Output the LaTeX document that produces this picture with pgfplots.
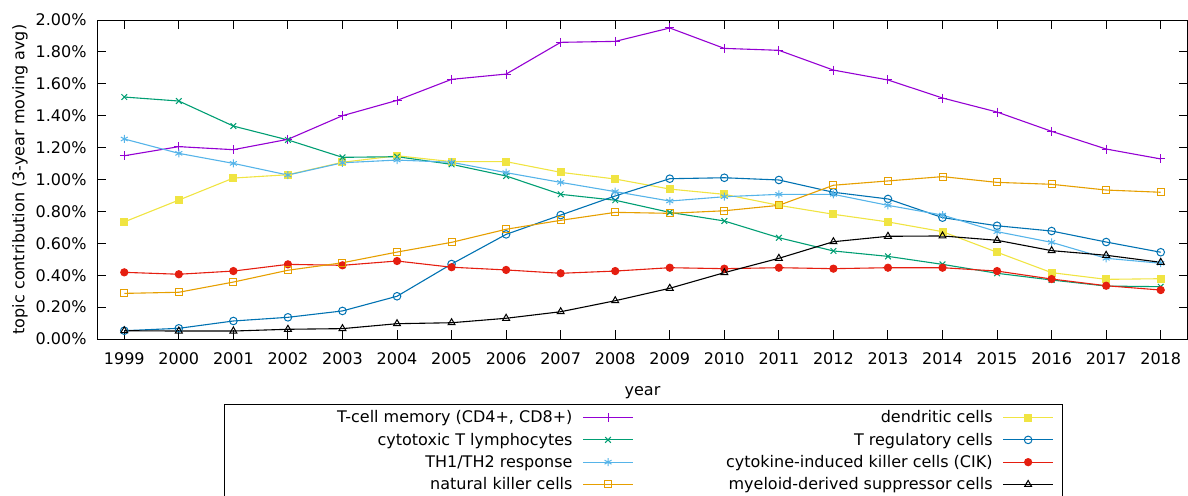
\documentclass[border=0pt]{standalone}
\usepackage{pgfplots}
\pgfplotsset{compat=1.18}
\usepackage{fontspec}
\setmainfont{DejaVu Sans}

\definecolor{cmem}{HTML}{9400D3}
\definecolor{ccyt}{HTML}{009E73}
\definecolor{cth}{HTML}{56B4E9}
\definecolor{cnk}{HTML}{E69F00}
\definecolor{cdc}{HTML}{F0E442}
\definecolor{ctreg}{HTML}{0072B2}
\definecolor{ccik}{HTML}{E51E10}

\newcommand{\ltxt}[1]{\makebox[339pt][r]{#1}}
\newcommand{\rtxt}[1]{\makebox[349pt][r]{#1}}

\begin{document}
\begin{tikzpicture}[font=\fontsize{16pt}{19pt}\selectfont]
\begin{axis}[
    scale only axis,
    width=1091pt, height=319pt,
    at={(97pt,-339pt)}, anchor=south west,
    xmin=1998.5, xmax=2018.5,
    ymin=0, ymax=2,
    xtick={1999,2000,...,2018},
    ytick={0,0.2,0.4,0.6,0.8,1.0,1.2,1.4,1.6,1.8,2.0},
    /pgf/number format/assume math mode=true,
    /pgf/number format/1000 sep={},
    yticklabel={\pgfmathprintnumber[fixed,fixed zerofill,precision=2]{\tick}\%},
    xtick pos=both, ytick pos=both,
    tick align=inside,
    major tick length=9pt,
    tick style={line width=1pt, black},
    axis line style={line width=1pt},
    tick label style={font=\fontsize{16pt}{19pt}\selectfont},
    xticklabel style={yshift=-10pt},
    yticklabel style={xshift=-7pt},
    label style={font=\fontsize{16pt}{19pt}\selectfont},
    xlabel={year},
    ylabel={topic contribution (3-year moving avg)},
    xlabel style={at={(axis description cs:0.5,-0.168)}, anchor=center},
    ylabel style={at={(axis description cs:-0.0706,0.5)}, anchor=center},
    every axis plot/.append style={line width=1.1pt, mark options={solid, line width=1pt}},
    legend plot pos=right,
    legend columns=2,
    legend image code/.code={\draw[mark repeat=2,mark phase=2,#1] plot coordinates {(0pt,0pt) (25pt,0pt) (50pt,0pt)};},
    legend style={at={(axis description cs:0.1164,-0.2038)}, anchor=north west,
        draw=black, line width=1pt, inner xsep=9pt, inner ysep=2pt,
        font=\fontsize{16pt}{19pt}\selectfont,
        nodes={inner xsep=0pt, inner ysep=4.3pt, line width=1pt},
        column sep=10pt, row sep=0pt},
]
\addplot[color=cmem, mark=+, mark size=4.5pt] coordinates {
(1999,1.149) (2000,1.206) (2001,1.187) (2002,1.252) (2003,1.400) (2004,1.496) (2005,1.628)
(2006,1.661) (2007,1.860) (2008,1.866) (2009,1.950) (2010,1.822) (2011,1.810) (2012,1.686)
(2013,1.624) (2014,1.511) (2015,1.423) (2016,1.302) (2017,1.191) (2018,1.129)};
\addlegendentry{\ltxt{T-cell memory (CD4+, CD8+)}}
\addplot[color=cdc, mark=square*, mark size=3.5pt] coordinates {
(1999,0.734) (2000,0.871) (2001,1.009) (2002,1.030) (2003,1.108) (2004,1.149) (2005,1.112)
(2006,1.112) (2007,1.045) (2008,1.003) (2009,0.940) (2010,0.907) (2011,0.838) (2012,0.782)
(2013,0.734) (2014,0.673) (2015,0.544) (2016,0.416) (2017,0.374) (2018,0.378)};
\addlegendentry{\rtxt{dendritic cells}}
\addplot[color=ccyt, mark=x, mark size=4pt] coordinates {
(1999,1.517) (2000,1.492) (2001,1.335) (2002,1.248) (2003,1.139) (2004,1.143) (2005,1.095)
(2006,1.022) (2007,0.907) (2008,0.870) (2009,0.794) (2010,0.740) (2011,0.635) (2012,0.552)
(2013,0.518) (2014,0.468) (2015,0.412) (2016,0.370) (2017,0.332) (2018,0.328)};
\addlegendentry{\ltxt{cytotoxic T lymphocytes}}
\addplot[color=ctreg, mark=o, mark size=3.8pt] coordinates {
(1999,0.052) (2000,0.067) (2001,0.113) (2002,0.136) (2003,0.176) (2004,0.268) (2005,0.470)
(2006,0.656) (2007,0.777) (2008,0.897) (2009,1.005) (2010,1.011) (2011,0.997) (2012,0.920)
(2013,0.878) (2014,0.761) (2015,0.710) (2016,0.677) (2017,0.608) (2018,0.544)};
\addlegendentry{\rtxt{T regulatory cells}}
\addplot[color=cth, mark=asterisk, mark size=4pt] coordinates {
(1999,1.254) (2000,1.164) (2001,1.101) (2002,1.028) (2003,1.105) (2004,1.122) (2005,1.108)
(2006,1.043) (2007,0.982) (2008,0.924) (2009,0.865) (2010,0.892) (2011,0.907) (2012,0.907)
(2013,0.838) (2014,0.777) (2015,0.673) (2016,0.606) (2017,0.506) (2018,0.475)};
\addlegendentry{\ltxt{TH1/TH2 response}}
\addplot[color=ccik, mark=*, mark size=3.6pt] coordinates {
(1999,0.418) (2000,0.406) (2001,0.426) (2002,0.468) (2003,0.462) (2004,0.489) (2005,0.450)
(2006,0.433) (2007,0.412) (2008,0.426) (2009,0.447) (2010,0.441) (2011,0.447) (2012,0.441)
(2013,0.447) (2014,0.447) (2015,0.426) (2016,0.376) (2017,0.334) (2018,0.307)};
\addlegendentry{\rtxt{cytokine-induced killer cells (CIK)}}
\addplot[color=cnk, mark=square, mark size=3.5pt] coordinates {
(1999,0.286) (2000,0.293) (2001,0.357) (2002,0.431) (2003,0.478) (2004,0.545) (2005,0.606)
(2006,0.688) (2007,0.744) (2008,0.794) (2009,0.788) (2010,0.804) (2011,0.838) (2012,0.964)
(2013,0.991) (2014,1.018) (2015,0.982) (2016,0.970) (2017,0.934) (2018,0.920)};
\addlegendentry{\ltxt{natural killer cells}}
\addplot[color=black, mark=triangle, mark size=4pt] coordinates {
(1999,0.052) (2000,0.050) (2001,0.050) (2002,0.061) (2003,0.065) (2004,0.096) (2005,0.102)
(2006,0.130) (2007,0.171) (2008,0.240) (2009,0.318) (2010,0.416) (2011,0.506) (2012,0.610)
(2013,0.644) (2014,0.646) (2015,0.619) (2016,0.554) (2017,0.525) (2018,0.481)};
\addlegendentry{\rtxt{myeloid-derived suppressor cells}}
\end{axis}
\pgfresetboundingbox
\useasboundingbox (0pt,0pt) rectangle (1188pt,-495pt);
\end{tikzpicture}
\end{document}
